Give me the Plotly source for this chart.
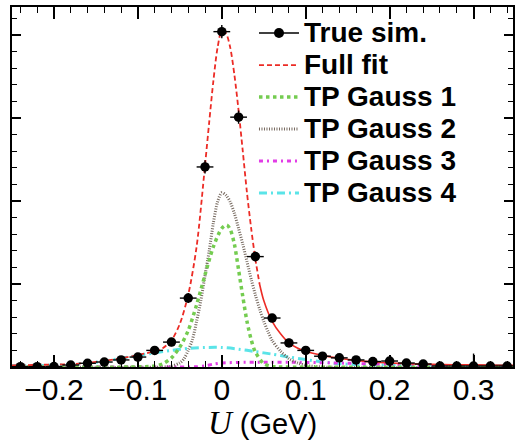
import plotly.graph_objects as go

# ---- data ----
pts_x = [-0.24, -0.22, -0.20, -0.18, -0.16, -0.14, -0.12, -0.10, -0.08, -0.06,
         -0.04, -0.02, 0.00, 0.02, 0.04, 0.06, 0.08, 0.10, 0.12, 0.14,
         0.16, 0.18, 0.20, 0.22, 0.24, 0.26, 0.28, 0.30, 0.32, 0.34]
pts_y = [0.004, 0.004, 0.006, 0.024, 0.045, 0.06, 0.085, 0.12, 0.20, 0.30,
         0.83, 2.41, 4.04, 3.01, 1.33, 0.59, 0.29, 0.20, 0.13, 0.11,
         0.085, 0.066, 0.072, 0.048, 0.036, 0.012, 0.012, 0.012, 0.012, 0.012]
pts_ey = [0.03, 0.03, 0.12, 0.03, 0.04, 0.04, 0.04, 0.05, 0.05, 0.05,
          0.06, 0.08, 0.08, 0.08, 0.06, 0.05, 0.05, 0.04, 0.04, 0.04,
          0.04, 0.04, 0.04, 0.04, 0.04, 0.03, 0.03, 0.15, 0.03, 0.03]
pts_ex = [0.01] * len(pts_x)

fit_x = [-0.25, -0.22, -0.20, -0.18, -0.16, -0.14, -0.12, -0.10, -0.08, -0.07,
         -0.06, -0.05, -0.04, -0.03, -0.02, -0.015, -0.01, -0.005, 0.0, 0.005,
         0.01, 0.015, 0.02, 0.025, 0.03, 0.035, 0.04, 0.045, 0.05, 0.06,
         0.07, 0.08, 0.09, 0.10, 0.12, 0.14, 0.16, 0.18, 0.20, 0.22,
         0.25, 0.30, 0.35]
fit_y = [0.02, 0.025, 0.03, 0.035, 0.05, 0.075, 0.105, 0.145, 0.19, 0.23,
         0.32, 0.52, 0.87, 1.45, 2.43, 2.95, 3.45, 3.85, 4.05, 4.02,
         3.85, 3.52, 3.09, 2.60, 2.10, 1.67, 1.30, 1.00, 0.80, 0.55,
         0.40, 0.29, 0.23, 0.19, 0.14, 0.105, 0.08, 0.06, 0.048, 0.04,
         0.032, 0.025, 0.02]

g1_x = [-0.25, -0.10, -0.08, -0.07, -0.06, -0.05, -0.04, -0.03, -0.02, -0.01,
        0.0, 0.006, 0.01, 0.015, 0.02, 0.025, 0.03, 0.035, 0.04, 0.05,
        0.06, 0.07, 0.35]
g1_y = [0.0, 0.001, 0.012, 0.04, 0.11, 0.24, 0.44, 0.75, 1.11, 1.45,
        1.67, 1.71, 1.66, 1.48, 1.17, 0.85, 0.55, 0.33, 0.18, 0.04,
        0.006, 0.0, 0.0]

g2_x = [-0.25, -0.07, -0.06, -0.05, -0.045, -0.04, -0.035, -0.03, -0.025, -0.02,
        -0.015, -0.01, -0.005, 0.0, 0.005, 0.01, 0.015, 0.02, 0.025, 0.03,
        0.035, 0.04, 0.045, 0.05, 0.055, 0.06, 0.07, 0.08, 0.09, 0.10,
        0.12, 0.35]
g2_y = [0.0, 0.0, 0.01, 0.05, 0.10, 0.20, 0.33, 0.55, 0.80, 1.10,
        1.40, 1.74, 1.99, 2.10, 2.07, 1.99, 1.85, 1.67, 1.48, 1.27,
        1.06, 0.87, 0.70, 0.55, 0.43, 0.32, 0.19, 0.10, 0.05, 0.02,
        0.0, 0.0]

g3_x = [-0.25, -0.05, -0.03, -0.02, -0.01, 0.0, 0.02, 0.05, 0.10, 0.15,
        0.20, 0.25, 0.30, 0.35]
g3_y = [0.0, 0.0, 0.003, 0.015, 0.035, 0.048, 0.055, 0.058, 0.055, 0.045,
        0.03, 0.015, 0.007, 0.003]

g4_x = [-0.25, -0.22, -0.20, -0.18, -0.16, -0.14, -0.12, -0.10, -0.08, -0.06,
        -0.04, -0.02, 0.0, 0.02, 0.04, 0.06, 0.08, 0.10, 0.12, 0.14,
        0.16, 0.18, 0.20, 0.25, 0.30, 0.35]
g4_y = [0.015, 0.018, 0.022, 0.03, 0.045, 0.07, 0.105, 0.14, 0.17, 0.20,
        0.225, 0.235, 0.235, 0.215, 0.185, 0.155, 0.12, 0.09, 0.06, 0.04,
        0.03, 0.025, 0.022, 0.02, 0.018, 0.017]

legend_names = ["True sim.", "Full fit", "TP Gauss 1", "TP Gauss 2", "TP Gauss 3", "TP Gauss 4"]

SPLIT = 0.045  # full-fit curve drawn dashed up to here, solid after (as in the reference)

RED = "#ec2b25"
GREEN = "#74cc50"
GRAY = "#76695f"
MAGENTA = "#e23ce6"
CYAN = "#5ae4e8"


def lname(s):
    return "<span style='font-size:28px'>" + s + "</span>"


fig = go.Figure()

fx1 = [x for x in fit_x if x <= SPLIT]
fy1 = fit_y[:len(fx1)]
fx2 = fit_x[len(fx1) - 1:]
fy2 = fit_y[len(fx1) - 1:]

fig.add_trace(go.Scatter(x=g4_x, y=g4_y, mode="lines", name=lname(legend_names[5]), legendrank=6,
                         line=dict(color=CYAN, width=3, dash="8px,4px,2px,4px", shape="spline", smoothing=0.8)))
fig.add_trace(go.Scatter(x=g3_x, y=g3_y, mode="lines", name=lname(legend_names[4]), legendrank=5,
                         line=dict(color=MAGENTA, width=3, dash="4px,4px,2px,4px", shape="spline", smoothing=0.8)))
fig.add_trace(go.Scatter(x=g2_x, y=g2_y, mode="lines", name=lname(legend_names[3]), legendrank=4,
                         line=dict(color=GRAY, width=3, dash="1px,1.5px", shape="spline", smoothing=0.8)))
fig.add_trace(go.Scatter(x=g1_x, y=g1_y, mode="lines", name=lname(legend_names[2]), legendrank=3,
                         line=dict(color=GREEN, width=3.5, dash="3.5px,3.5px", shape="spline", smoothing=0.8)))
fig.add_trace(go.Scatter(x=fx1, y=fy1, mode="lines", name=lname(legend_names[1]), legendrank=2,
                         line=dict(color=RED, width=1.8, dash="5px,3px", shape="spline", smoothing=0.8)))
fig.add_trace(go.Scatter(x=fx2, y=fy2, mode="lines", showlegend=False,
                         line=dict(color=RED, width=1.6, shape="spline", smoothing=0.8)))

fig.add_trace(go.Scatter(x=pts_x, y=pts_y, mode="markers", showlegend=False,
                         marker=dict(color="black", size=9.5),
                         error_x=dict(type="data", array=pts_ex, width=0, thickness=1.4, color="black"),
                         error_y=dict(type="data", array=pts_ey, width=0, thickness=1.4, color="black")))
fig.add_trace(go.Scatter(x=[None], y=[None], mode="lines+markers", name=lname(legend_names[0]), legendrank=1,
                         marker=dict(color="black", size=10), line=dict(color="black", width=1.5)))

axis_common = dict(showline=True, linecolor="black", linewidth=2, mirror="ticks",
                   ticks="inside", tickcolor="black", tickwidth=1.5, showgrid=False, zeroline=False)

fig.update_xaxes(range=[-0.25, 0.347], dtick=0.1, tick0=0, ticklen=12,
                 minor=dict(dtick=0.02, tick0=0, ticklen=6, ticks="inside", tickcolor="black", tickwidth=1.2),
                 tickfont=dict(family="Liberation Sans, Arial", size=30, color="black"),
                 ticklabelstandoff=-5,
                 title=dict(text="<span style='font-family:Liberation Serif;font-size:33px'><i>U</i></span> (GeV)",
                            font=dict(family="Liberation Sans, Arial", size=29, color="black"), standoff=2),
                 **axis_common)
fig.update_yaxes(range=[0, 4.337], dtick=1, tick0=0, ticklen=9, showticklabels=False,
                 minor=dict(dtick=0.2, tick0=0, ticklen=5, ticks="inside", tickcolor="black", tickwidth=1.2),
                 **axis_common)

fig.update_layout(
    width=516, height=441, autosize=False,
    margin=dict(l=12, r=1, t=7, b=74),
    paper_bgcolor="white", plot_bgcolor="white",
    legend=dict(x=0.483, y=0.986, xanchor="left", yanchor="top", bgcolor="rgba(0,0,0,0)",
                font=dict(family="Liberation Sans, Arial", size=22.3, color="black", weight="bold"),
                tracegroupgap=0, itemwidth=40),
    showlegend=True,
)

fig.write_html("out.html")
